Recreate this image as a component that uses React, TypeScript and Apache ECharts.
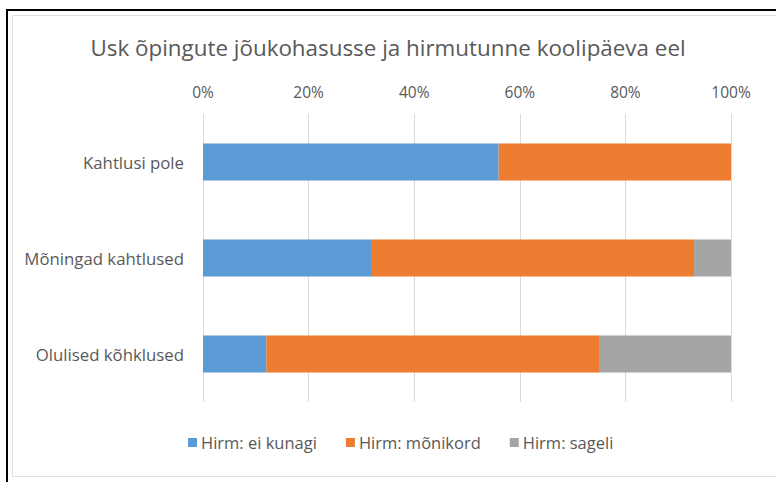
import React, { useEffect, useRef } from "react";
import * as echarts from "echarts";

const categories = ["Kahtlusi pole", "Mõningad kahtlused", "Olulised kõhklused"];
const seriesNames = ["Hirm: ei kunagi", "Hirm: mõnikord", "Hirm: sageli"];
const eiKunagi = [56, 32, 12];
const monikord = [44, 61, 63];
const sageli = [0, 7, 25];
const colors = ["#5b9bd5", "#ed7d31", "#a5a5a5"];
const titleText = "Usk õpingute jõukohasusse ja hirmutunne koolipäeva eel";

const FONT = "'Open Sans', 'Noto Sans', sans-serif";

export default function App() {
  const ref = useRef<HTMLDivElement>(null);
  useEffect(() => {
    if (!ref.current) return;
    const chart = echarts.init(ref.current, undefined, { renderer: "svg" });
    const values = [eiKunagi, monikord, sageli];
    chart.setOption({
      animation: false,
      backgroundColor: "#ffffff",
      title: {
        text: titleText,
        left: "center",
        top: 31,
        textStyle: { fontFamily: FONT, fontSize: 22.4, fontWeight: "normal", color: "#595959" },
      },
      legend: {
        bottom: 26,
        left: 183,
        icon: "rect",
        itemWidth: 9,
        itemHeight: 9,
        itemGap: 29,
        textStyle: { fontFamily: FONT, fontSize: 16.5, color: "#595959", padding: [0, 0, 0, -1] },
        data: seriesNames,
      },
      grid: { left: 203, right: 45, top: 114, bottom: 80, containLabel: false },
      xAxis: {
        type: "value",
        position: "top",
        min: 0,
        max: 100,
        interval: 20,
        axisLine: { show: false },
        axisTick: { show: false },
        axisLabel: { formatter: "{value}%", fontFamily: FONT, fontSize: 15.5, color: "#595959", margin: 14 },
        splitLine: { lineStyle: { color: "#d9d9d9", width: 1 } },
      },
      yAxis: {
        type: "category",
        inverse: true,
        data: categories,
        axisLine: { show: false },
        axisTick: { show: false },
        axisLabel: { fontFamily: FONT, fontSize: 16.8, color: "#595959", margin: 19 },
      },
      series: seriesNames.map((name, i) => ({
        name,
        type: "bar",
        stack: "total",
        barWidth: 37,
        itemStyle: { color: colors[i] },
        data: values[i],
      })),
      graphic: [
        { type: "line", shape: { x1: 7, y1: 10, x2: 7, y2: 482 }, style: { stroke: "#000", lineWidth: 2 } },
        { type: "line", shape: { x1: 6, y1: 10, x2: 776, y2: 10 }, style: { stroke: "#000", lineWidth: 2 } },
        { type: "line", shape: { x1: 12.5, y1: 15, x2: 12.5, y2: 476 }, style: { stroke: "#e0e0e0", lineWidth: 1 } },
        { type: "line", shape: { x1: 12, y1: 15.5, x2: 776, y2: 15.5 }, style: { stroke: "#e0e0e0", lineWidth: 1 } },
        { type: "line", shape: { x1: 12, y1: 476.5, x2: 776, y2: 476.5 }, style: { stroke: "#e0e0e0", lineWidth: 1 } },
      ],
    });
    return () => chart.dispose();
  }, []);
  return <div ref={ref} style={{ position: "absolute", left: 0, top: 0, width: 776, height: 482 }} />;
}
